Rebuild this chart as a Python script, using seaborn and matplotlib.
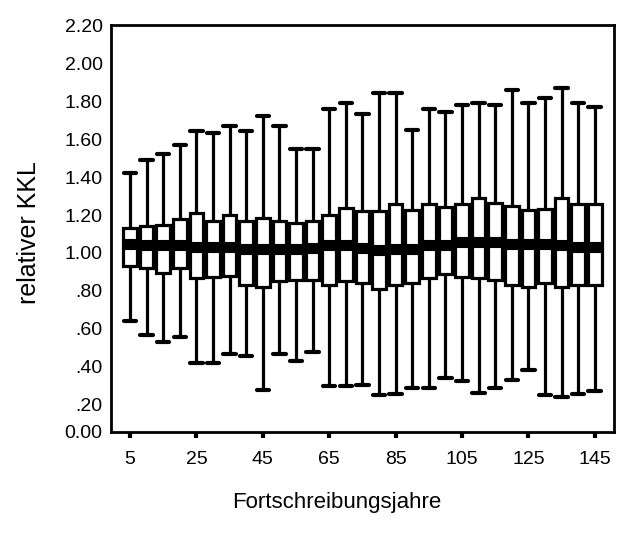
import numpy as np
import pandas as pd
import seaborn as sns
import matplotlib.pyplot as plt

# Fortschreibungsjahre (5 .. 145) and box statistics
years = [5, 10, 15, 20, 25, 30, 35, 40, 45, 50, 55, 60, 65, 70, 75,
         80, 85, 90, 95, 100, 105, 110, 115, 120, 125, 130, 135, 140, 145]
whisker_hi = [1.42, 1.49, 1.52, 1.57, 1.64, 1.63, 1.67, 1.64, 1.72, 1.67, 1.55, 1.55, 1.76, 1.79, 1.73,
              1.84, 1.84, 1.65, 1.76, 1.74, 1.78, 1.79, 1.78, 1.86, 1.79, 1.815, 1.87, 1.79, 1.77]
q3 = [1.13, 1.14, 1.15, 1.18, 1.21, 1.17, 1.20, 1.17, 1.185, 1.17, 1.16, 1.17, 1.20, 1.235, 1.22,
      1.22, 1.26, 1.225, 1.26, 1.24, 1.26, 1.29, 1.265, 1.25, 1.225, 1.23, 1.29, 1.26, 1.26]
median = [1.05, 1.04, 1.04, 1.04, 1.03, 1.03, 1.03, 1.02, 1.02, 1.02, 1.02, 1.025, 1.04, 1.04, 1.025,
          1.015, 1.02, 1.02, 1.04, 1.04, 1.06, 1.06, 1.06, 1.05, 1.05, 1.05, 1.04, 1.03, 1.03]
q1 = [0.93, 0.92, 0.895, 0.92, 0.87, 0.875, 0.88, 0.83, 0.82, 0.85, 0.86, 0.86, 0.83, 0.85, 0.84,
      0.81, 0.83, 0.84, 0.87, 0.89, 0.875, 0.87, 0.86, 0.83, 0.82, 0.84, 0.82, 0.83, 0.83]
whisker_lo = [0.64, 0.57, 0.53, 0.56, 0.42, 0.42, 0.47, 0.46, 0.28, 0.47, 0.43, 0.48, 0.30, 0.30, 0.305,
              0.25, 0.26, 0.29, 0.29, 0.34, 0.325, 0.265, 0.29, 0.33, 0.385, 0.25, 0.24, 0.26, 0.275]

xtick_years = [5, 25, 45, 65, 85, 105, 125, 145]
ytick_vals = [0.058, 0.2, 0.4, 0.6, 0.8, 1.0, 1.2, 1.4, 1.6, 1.8, 2.0, 2.2]
ytick_labels = ["0.00", ".20", ".40", ".60", ".80", "1.00", "1.20", "1.40",
                "1.60", "1.80", "2.00", "2.20"]

# five points per year reproduce min / Q1 / median / Q3 / max exactly
rows = []
for i, yr in enumerate(years):
    for v in (whisker_lo[i], q1[i], median[i], q3[i], whisker_hi[i]):
        rows.append({"jahr": yr, "kkl": v})
df = pd.DataFrame(rows)

sns.set_style("white")
plt.rcParams['font.family'] = ['Liberation Sans', 'DejaVu Sans']
plt.rcParams['text.color'] = 'black'
plt.rcParams['axes.labelcolor'] = 'black'
plt.rcParams['xtick.color'] = 'black'
plt.rcParams['ytick.color'] = 'black'

fig = plt.figure(figsize=(6.2, 5.46), dpi=100)
ax = fig.add_axes([0.179, 0.209, 0.811, 0.745])

box_kws = dict(data=df, x="jahr", y="kkl", order=years, whis=(0, 100),
               color="white", linecolor="black", linewidth=2.3, width=0.82,
               medianprops={"linewidth": 8, "solid_capstyle": "butt"},
               whiskerprops={"linewidth": 2.3}, capprops={"linewidth": 3},
               ax=ax)
try:
    sns.boxplot(capwidths=0.75, **box_kws)
except Exception:
    ax.cla()
    sns.boxplot(**box_kws)

ax.set_ylim(0.058, 2.2)
ax.set_xlim(-1.15, len(years) - 1 + 1.15)
ax.set_yticks(ytick_vals)
ax.set_yticklabels(ytick_labels)
ax.set_xticks([years.index(y) for y in xtick_years])
ax.set_xticklabels([str(y) for y in xtick_years])

ax.tick_params(axis="y", length=0, pad=6, labelsize=14, labelcolor="black")
ax.tick_params(axis="x", length=4, width=3, direction="out", pad=10,
               labelsize=14, bottom=True, color="black", labelcolor="black")
for s in ax.spines.values():
    s.set_visible(True)
    s.set_color("black")
    s.set_linewidth(2)

ax.set_xlabel("Fortschreibungsjahre", fontsize=16, color="black")
ax.xaxis.set_label_coords(0.45, -0.148)
ax.set_ylabel("relativer KKL", fontsize=18, color="black")
ax.yaxis.set_label_coords(-0.14, 0.49)

fig.savefig("out.png", dpi=100)
